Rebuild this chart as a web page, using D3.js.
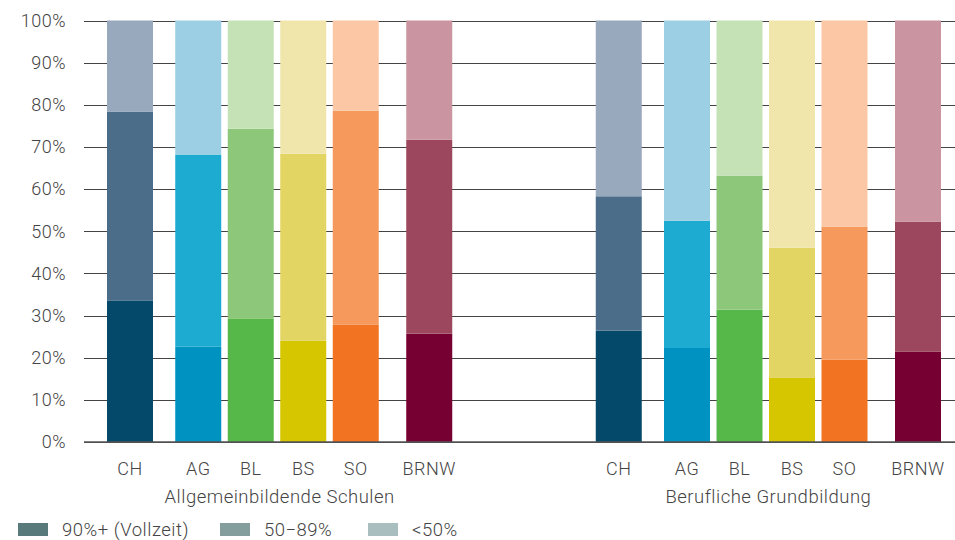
<!DOCTYPE html>
<html>
<head>
<meta charset="utf-8">
<script src="https://cdn.jsdelivr.net/npm/d3@7"></script>
<style>
  body { margin: 0; background: #fff; }
  text { font-family: Roboto, "Noto Sans", sans-serif; font-weight: 300; fill: #444; letter-spacing: 0.5px; }
</style>
</head>
<body>
<script>
// size
var w = 955;
var h = 540;

// data
const regions = ["CH", "AG", "BL", "BS", "SO", "BRNW"];
const groupNames = ["Allgemeinbildende Schulen", "Berufliche Grundbildung"];
const levels = ["90%+ (Vollzeit)", "50\u221289%", "<50%"];

const allgFull = [33.6, 22.6, 29.2, 24.0, 27.8, 25.7];
const allgMid  = [44.8, 45.6, 45.1, 44.4, 50.8, 46.0];
const allgLow  = [21.6, 31.8, 25.7, 31.6, 21.4, 28.3];

const beruFull = [26.4, 22.3, 31.4, 15.2, 19.5, 21.4];
const beruMid  = [31.9, 30.2, 31.8, 30.9, 31.6, 30.9];
const beruLow  = [41.7, 47.5, 36.8, 53.9, 48.9, 47.7];

const yTicks = d3.range(0, 101, 10);

// colours per region: [full, mid, low]
const regionColors = {
  CH:   ["#05496a", "#4b6d8a", "#98a8bd"],
  AG:   ["#0092c0", "#1dabd1", "#9dcfe4"],
  BL:   ["#55b848", "#8dc87a", "#c5e2b7"],
  BS:   ["#d6c600", "#e3d563", "#f0e6ac"],
  SO:   ["#f27321", "#f6995d", "#fcc7a4"],
  BRNW: ["#770033", "#9c475d", "#ca95a0"]
};
const legendColors = ["#587a7a", "#849e9e", "#a9bebe"];

// slots along the x axis (CH and BRNW stand a bit apart)
const regionSlot = [0, 1.3, 2.3, 3.3, 4.3, 5.7];
const groupSlot = 9.31;

// build rows
const rows = [];
[[allgFull, allgMid, allgLow], [beruFull, beruMid, beruLow]].forEach((g, gi) => {
  regions.forEach((r, i) => {
    rows.push({ group: gi, region: r, slot: gi * groupSlot + regionSlot[i],
                full: g[0][i], mid: g[1][i], low: g[2][i] });
  });
});

const stack = d3.stack().keys(["full", "mid", "low"]);
const series = stack(rows);

// scales
const x = d3.scaleLinear().domain([0, groupSlot + regionSlot[5]]).range([130, 918]);
const y = d3.scaleLinear().domain([0, 100]).range([442, 20.5]);
const barW = 46;

const svg = d3.select("body").append("svg")
  .attr("width", w)
  .attr("height", h);

// gridlines + y labels
const yAxis = d3.axisLeft(y)
  .tickValues(yTicks)
  .tickSize(w - 84)
  .tickPadding(18)
  .tickFormat(d => d + "%");

svg.append("g")
  .attr("transform", `translate(${w},0)`)
  .call(yAxis)
  .call(g => g.select(".domain").remove())
  .call(g => g.selectAll("line").attr("stroke", "#444").attr("stroke-width", 1).attr("shape-rendering", "crispEdges"))
  .call(g => g.selectAll("text").style("font-size", "18px").attr("fill", "#555"));

// bars
svg.append("g").selectAll("g")
  .data(series)
  .join("g")
  .selectAll("rect")
  .data((s, k) => s.map(d => ({ d, k })))
  .join("rect")
  .attr("x", e => x(e.d.data.slot) - barW / 2)
  .attr("width", barW)
  .attr("y", e => y(e.d[1]))
  .attr("height", e => y(e.d[0]) - y(e.d[1]))
  .attr("fill", e => regionColors[e.d.data.region][e.k]);

// baseline
svg.append("line")
  .attr("x1", 84).attr("x2", w)
  .attr("y1", y(0)).attr("y2", y(0))
  .attr("stroke", "#555").attr("stroke-width", 1.5);

// category labels
svg.append("g").selectAll("text")
  .data(rows)
  .join("text")
  .attr("x", d => x(d.slot))
  .attr("y", 475)
  .attr("text-anchor", "middle")
  .style("font-size", "18px")
  .text(d => d.region);

// group labels
svg.append("g").selectAll("text")
  .data(groupNames)
  .join("text")
  .attr("x", (d, gi) => (x(gi * groupSlot) + x(gi * groupSlot + regionSlot[5])) / 2)
  .attr("y", 503)
  .attr("text-anchor", "middle")
  .style("font-size", "18.5px")
  .text(d => d);

// legend
const legX = [18, 220, 368];
const leg = svg.append("g").selectAll("g")
  .data(levels)
  .join("g")
  .attr("transform", (d, i) => `translate(${legX[i]},523)`);

leg.append("rect")
  .attr("width", 30).attr("height", 13)
  .attr("fill", (d, i) => legendColors[i]);

leg.append("text")
  .attr("x", 44)
  .attr("y", 13)
  .style("font-size", "18.5px")
  .text(d => d);
</script>
</body>
</html>
